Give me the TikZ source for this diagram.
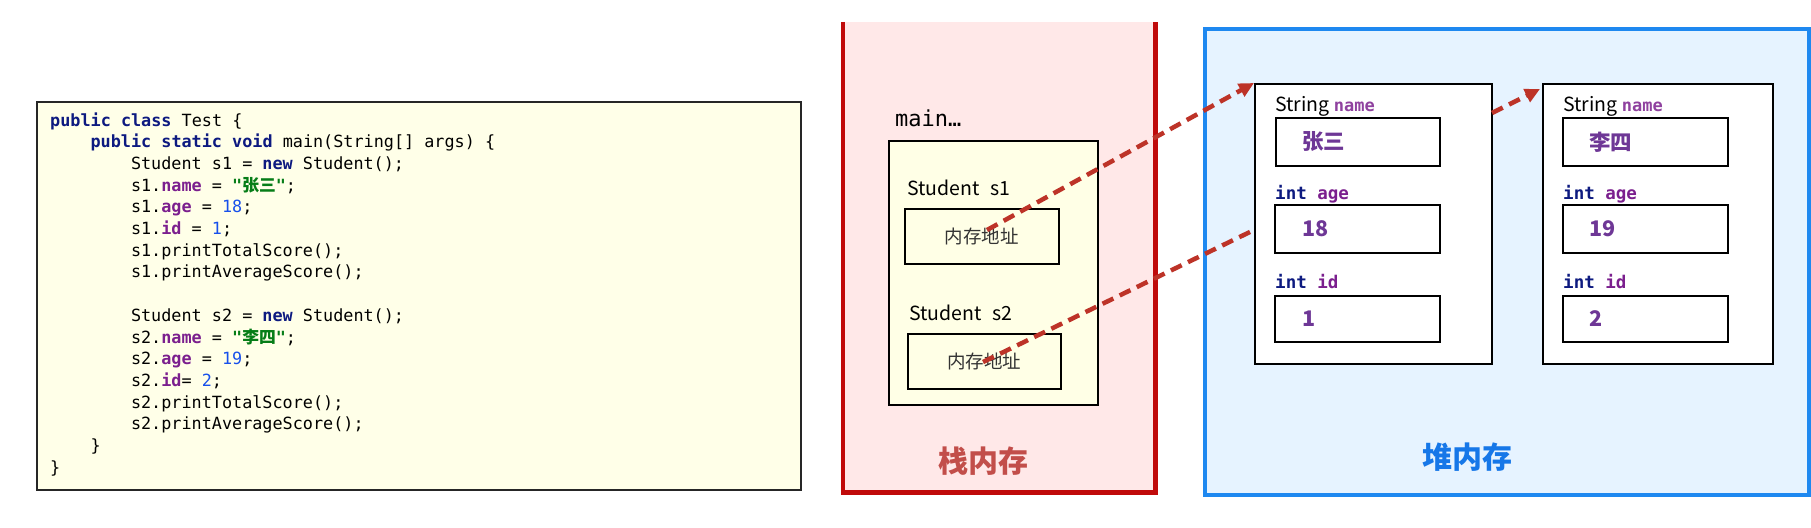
\documentclass[tikz,border=0pt]{standalone}
\usepackage{fontspec}
\setmonofont{DejaVu Sans Mono}
\newfontfamily\cjk{Noto Sans CJK SC}
\usetikzlibrary{arrows.meta}
\definecolor{kwc}{HTML}{0D1A80}
\definecolor{fldc}{HTML}{7B1F8E}
\definecolor{strc}{HTML}{067D17}
\definecolor{numc}{HTML}{1750EB}
\definecolor{codebg}{HTML}{FFFFE8}
\definecolor{stackbg}{HTML}{FFE8E8}
\definecolor{stackln}{HTML}{C00A0A}
\definecolor{stacktx}{HTML}{C24E4A}
\definecolor{heapbg}{HTML}{E6F3FF}
\definecolor{heapln}{HTML}{1E88F0}
\definecolor{heaptx}{HTML}{1677E8}
\definecolor{valc}{HTML}{6E3796}
\definecolor{arrc}{HTML}{BD3328}
\definecolor{yelbg}{HTML}{FFFFE6}
\newcommand{\ckw}[1]{\textcolor{kwc}{\bfseries #1}}
\newcommand{\cfld}[1]{\textcolor{fldc}{\bfseries #1}}
\newcommand{\cstr}[1]{\textcolor{strc}{\bfseries #1}}
\newcommand{\cnumv}[1]{\textcolor{numc}{#1}}
\begin{document}
\begin{tikzpicture}[x=1pt,y=-1pt,
  codeline/.style={anchor=base west,inner sep=0pt,font=\ttfamily\fontsize{16.8}{20}\selectfont},
  boxr/.style={anchor=north west,inner sep=0pt,draw=black,line width=1.5pt},
  lbl/.style={anchor=base west,inner sep=0pt,font=\cjk\fontsize{19.5}{22}\selectfont},
  monolbl/.style={anchor=base west,inner sep=0pt,font=\ttfamily\bfseries\fontsize{17.5}{20}\selectfont},
  valtxt/.style={anchor=west,inner sep=0pt,text=valc,font=\cjk\bfseries\fontsize{21.5}{24}\selectfont},
  addr/.style={inner sep=0pt,text=black!80,font=\cjk\fontsize{18.5}{22}\selectfont},
  title/.style={inner sep=0pt,font=\cjk\bfseries\fontsize{30}{34}\selectfont},
  ref/.style={draw=arrc,line width=4.5pt,dash pattern=on 12pt off 7pt}]
\useasboundingbox[fill=white] (0,0) rectangle (1811,527);

% code box
\node[boxr,fill=codebg,draw=black!85,line width=2pt,minimum width=764pt,minimum height=388pt] (code) at (36,101) {};
\node[codeline] (l1) at (50,126) {\ckw{public} \ckw{class} Test \{};
\node[codeline] (l2) at (90.4,147.7) {\ckw{public} \ckw{static} \ckw{void} main(String[] args) \{};
\node[codeline] (l3) at (130.8,169.4) {Student s1 = \ckw{new} Student();};
\node[codeline] (l4) at (130.8,191.1) {s1.\cfld{name} = \cstr{"{\cjk\bfseries 张三}"};};
\node[codeline] (l5) at (130.8,212.8) {s1.\cfld{age} = \cnumv{18};};
\node[codeline] (l6) at (130.8,234.5) {s1.\cfld{id} = \cnumv{1};};
\node[codeline] (l7) at (130.8,256.2) {s1.printTotalScore();};
\node[codeline] (l8) at (130.8,277.9) {s1.printAverageScore();};
\node[codeline] (l10) at (130.8,321.3) {Student s2 = \ckw{new} Student();};
\node[codeline] (l11) at (130.8,343.0) {s2.\cfld{name} = \cstr{"{\cjk\bfseries 李四}"};};
\node[codeline] (l12) at (130.8,364.7) {s2.\cfld{age} = \cnumv{19};};
\node[codeline] (l13) at (130.8,386.4) {s2.\cfld{id}= \cnumv{2};};
\node[codeline] (l14) at (130.8,408.1) {s2.printTotalScore();};
\node[codeline] (l15) at (130.8,429.8) {s2.printAverageScore();};
\node[codeline] (l16) at (90.4,451.5) {\}};
\node[codeline] (l17) at (50,473.2) {\}};

% stack
\node[anchor=north west,inner sep=0pt,fill=stackbg,minimum width=312pt,minimum height=470pt] (stack) at (843,22) {};
\draw[stackln,line width=4.5pt] (stack.north west) -- (stack.south west) -- (stack.south east) -- (stack.north east);
\node[anchor=base west,inner sep=0pt,font=\ttfamily\fontsize{22}{26}\selectfont] (mainlbl) at (895,126) {main…};
\node[boxr,fill=yelbg,minimum width=209pt,minimum height=264pt] (frame) at (888,140) {};
\node[lbl] (s1lbl) at (907,195) {Student\hspace{11pt}s1};
\node[boxr,fill=yelbg,minimum width=154pt,minimum height=55pt] (b1) at (904,208) {};
\node[addr] (t1) at (b1.center) {内存地址};
\node[lbl] (s2lbl) at (909,320) {Student\hspace{11pt}s2};
\node[boxr,fill=yelbg,minimum width=153pt,minimum height=55pt] (b2) at (907,333) {};
\node[addr] (t2) at (b2.center) {内存地址};
\node[title,text=stacktx] (stitle) at (983,461) {栈内存};

% heap
\node[anchor=north west,inner sep=0pt,fill=heapbg,draw=heapln,line width=4pt,minimum width=604pt,minimum height=466pt] (heap) at (1203,27) {};
\node[title,text=heaptx] (htitle) at (1467,457) {堆内存};

% object 1
\node[boxr,fill=white,minimum width=237pt,minimum height=280pt] (o1) at (1254,83) {};
\node[lbl] (o1n) at (1275,111) {String {\ttfamily\bfseries\fontsize{17}{19}\selectfont\textcolor{fldc!85}{name}}};
\node[boxr,fill=white,minimum width=164pt,minimum height=48pt] (o1nb) at (1275,117) {};
\node[valtxt] (o1nv) at (1302,142) {张三};
\node[monolbl] (o1a) at (1275,199) {\textcolor{kwc}{int} \textcolor{fldc}{age}};
\node[boxr,fill=white,minimum width=165pt,minimum height=48pt] (o1ab) at (1274,204) {};
\node[valtxt] (o1av) at (1302,229) {18};
\node[monolbl] (o1i) at (1275,288) {\textcolor{kwc}{int} \textcolor{fldc}{id}};
\node[boxr,fill=white,minimum width=165pt,minimum height=46pt] (o1ib) at (1274,295) {};
\node[valtxt] (o1iv) at (1302,319) {1};

% object 2
\node[boxr,fill=white,minimum width=230pt,minimum height=280pt] (o2) at (1542,83) {};
\node[lbl] (o2n) at (1563,111) {String {\ttfamily\bfseries\fontsize{17}{19}\selectfont\textcolor{fldc!85}{name}}};
\node[boxr,fill=white,minimum width=165pt,minimum height=48pt] (o2nb) at (1562,117) {};
\node[valtxt] (o2nv) at (1589,142) {李四};
\node[monolbl] (o2a) at (1563,199) {\textcolor{kwc}{int} \textcolor{fldc}{age}};
\node[boxr,fill=white,minimum width=165pt,minimum height=48pt] (o2ab) at (1562,204) {};
\node[valtxt] (o2av) at (1589,229) {19};
\node[monolbl] (o2i) at (1563,288) {\textcolor{kwc}{int} \textcolor{fldc}{id}};
\node[boxr,fill=white,minimum width=165pt,minimum height=46pt] (o2ib) at (1562,295) {};
\node[valtxt] (o2iv) at (1589,319) {2};

% references
\coordinate (r1s) at (987,230);
\coordinate (r2s) at (983,362);
\coordinate (r2e) at (1254,230);
\coordinate (r3s) at (1492,113);
\coordinate (r3e) at (1540,89);
\draw[ref,-{Triangle[length=15pt,width=14pt]}] (r1s) -- (o1.north west);
\draw[ref] (r2s) -- (r2e);
\draw[ref,-{Triangle[length=15pt,width=14pt]}] (r3s) -- (r3e);
\end{tikzpicture}
\end{document}
